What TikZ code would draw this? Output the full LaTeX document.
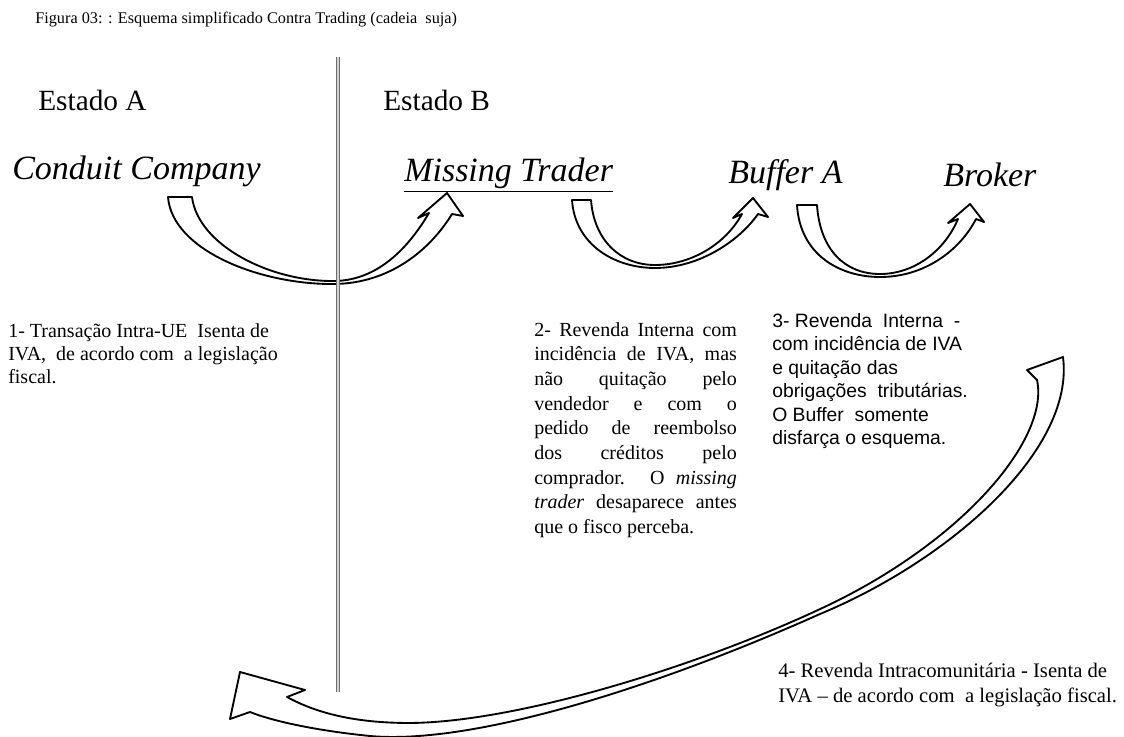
\documentclass[tikz,border=0pt]{standalone}
\usepackage{fontspec}
\setmainfont{Liberation Serif}
\setsansfont{Liberation Sans}
\usepackage{tikz}
\definecolor{dividergray}{RGB}{110,110,110}
\newcommand{\jline}[1]{\makebox[152pt][s]{#1}}

\begin{document}
\begin{tikzpicture}[
    x=0.75pt, y=-0.75pt,
    label/.style={inner sep=0pt, anchor=west},
    state/.style={label, font=\fontsize{22}{26}\selectfont},
    trader/.style={label, font=\fontsize{25.5}{30}\selectfont\itshape},
    note/.style={inner sep=0pt, anchor=north west, align=left,
                 font=\fontsize{15}{18.5}\selectfont},
    blockarrow/.style={draw=black, fill=white, line width=1.4pt, line join=round}
]
    \useasboundingbox[fill=white] (0,0) rectangle (1124,737);

    % Title
    \node[label, font=\fontsize{12.2}{14}\selectfont] (title) at (35,20)
        {Figura 03: : Esquema simplificado Contra Trading (cadeia~~suja)};

    % States
    \node[state] (estA) at (38,100) {Estado A};
    \node[state] (estB) at (383,100) {Estado B};

    % Companies
    \node[trader] (conduit) at (12,171) {Conduit Company};
    \node[trader] (missing) at (404,175) {\underline{Missing Trader}};
    \node[trader] (bufferA) at (728,175) {Buffer A};
    \node[trader] (broker) at (943,175) {Broker};

    % Curved arrows
    \draw[blockarrow] (168,197) .. controls (172,250) and (260,285) .. (335,284)
        .. controls (390,283) and (430,250) .. (452,214) -- (463,216) -- (447,193)
        -- (418,218) -- (429,213) .. controls (410,245) and (380,280) .. (335,281)
        .. controls (270,282) and (198,245) .. (192,197) -- cycle;
    \draw[blockarrow] (572,200) .. controls (575,245) and (615,268) .. (655,268)
        .. controls (700,268) and (740,240) .. (758,214) -- (768,217) -- (753,198)
        -- (733,218) -- (742,214) .. controls (725,245) and (690,265) .. (655,265)
        .. controls (620,265) and (594,240) .. (591,200) -- cycle;
    \draw[blockarrow] (797,205) .. controls (800,255) and (840,277) .. (880,277)
        .. controls (925,277) and (960,250) .. (976,219) -- (984,222) -- (970,204)
        -- (948,223) -- (958,219) .. controls (945,250) and (915,274) .. (880,274)
        .. controls (845,274) and (820,250) .. (817,205) -- cycle;
    \draw[blockarrow] (1027,370) -- (1063,357) .. controls (1075,450) and (950,560) .. (820,614)
        .. controls (650,690) and (470,745) .. (370,736)
        .. controls (320,731) and (275,722) .. (250,712) -- (230,719) -- (240,672)
        -- (305,690) -- (287,697) .. controls (320,715) and (360,723) .. (410,723)
        .. controls (520,722) and (700,665) .. (818,610)
        .. controls (960,545) and (1050,440) .. (1037,380) -- cycle;

    % Divider
    \coordinate (divtop) at (338,57);
    \coordinate (divbot) at (338,692);
    \draw[draw=dividergray, double=gray!35, double distance=2.2pt, line width=0.6pt]
        (divtop) -- (divbot);

    % Notes
    \node[note, font=\fontsize{15}{17.2}\selectfont] (note1) at (8,323)
        {1- Transação Intra-UE~ Isenta de\\IVA,~ de acordo com~ a legislação\\fiscal.};
    \node[note] (note2) at (534,322)
        {\jline{2- Revenda Interna com}\\
         \jline{incidência de IVA, mas}\\
         \jline{não quitação pelo}\\
         \jline{vendedor e com o}\\
         \jline{pedido de reembolso}\\
         \jline{dos créditos pelo}\\
         \jline{comprador. O \textit{missing}}\\
         \jline{\textit{trader} desaparece antes}\\
         que o fisco perceba.};
    \node[note, font=\sffamily\fontsize{14.5}{17.6}\selectfont] (note3) at (772,313)
        {3- Revenda~ Interna~ -\\com incidência de IVA\\e quitação das\\obrigações~ tributárias.\\O Buffer~ somente\\disfarça o esquema.};
    \node[note, font=\fontsize{15.5}{18.8}\selectfont] (note4) at (778,663)
        {4- Revenda Intracomunitária - Isenta de\\IVA – de acordo com~ a legislação fiscal.};
\end{tikzpicture}
\end{document}
